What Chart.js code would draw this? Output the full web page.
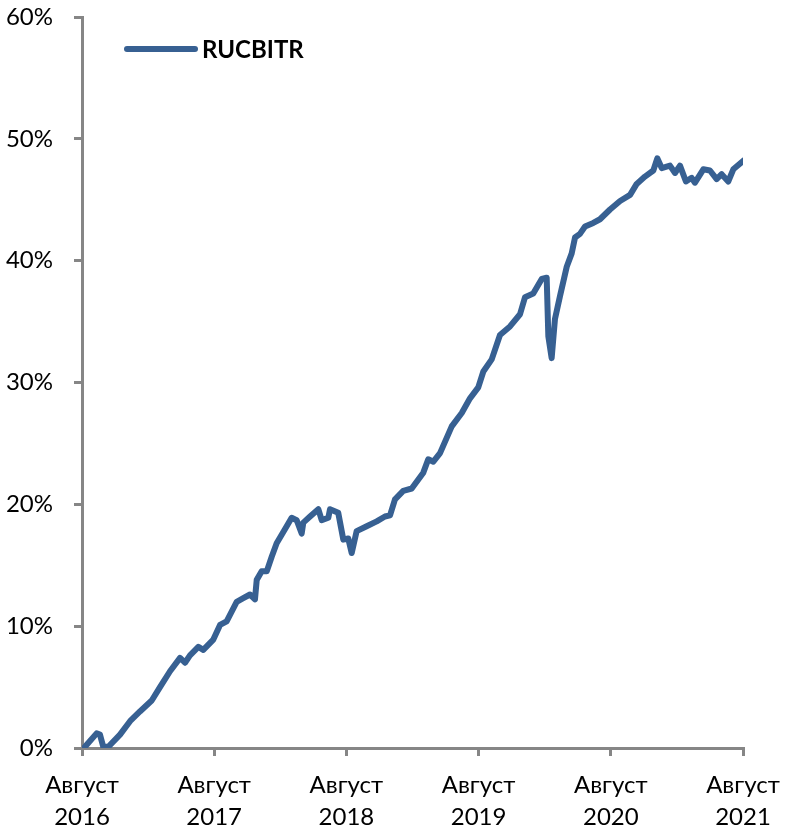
<!DOCTYPE html>
<html>
<head>
<meta charset="utf-8">
<script src="https://cdn.jsdelivr.net/npm/chart.js@4.4.1/dist/chart.umd.min.js"></script>
<style>
  html, body { margin: 0; padding: 0; background: #fff; }
  #wrap { width: 792px; height: 830px; }
</style>
</head>
<body>
<div id="wrap"><canvas id="chart" width="792" height="830"></canvas></div>
<script>
// months since August 2016
const months = [0.27, 1.33, 1.63, 1.93, 2.39, 3.45, 4.36, 5.26, 6.33, 7.08, 7.99, 8.9, 9.35, 9.8, 10.56, 11.01,
  11.92, 12.53, 13.13, 14.04, 14.64, 15.25, 15.7, 15.86, 16.31, 16.77, 17.22, 17.67, 18.58, 19.03, 19.49, 19.94,
  20.09, 20.7, 21.45, 21.76, 22.36, 22.51, 23.26, 23.72, 24.17, 24.48, 24.93, 25.84, 26.75, 27.5, 27.96, 28.41,
  29.16, 29.93, 30.98, 31.43, 31.89, 32.5, 33.56, 34.47, 35.22, 35.97, 36.43, 37.19, 37.94, 38.85, 39.76, 40.21,
  40.96, 41.73, 42.18, 42.33, 42.63, 42.93, 43.39, 44.0, 44.45, 44.75, 45.2, 45.66, 46.41, 47.02, 47.93, 48.84,
  49.75, 50.35, 51.1, 51.86, 52.22, 52.62, 53.37, 53.83, 54.28, 54.82, 55.34, 55.64, 56.4, 57.0, 57.61, 58.06,
  58.66, 59.12, 60.03];
// RUCBITR, %
const rucbitr = [0.1, 1.2, 1.1, 0.1, 0.1, 1.1, 2.2, 3.0, 3.9, 5.0, 6.3, 7.4, 7.0, 7.6, 8.3, 8.05,
  8.9, 10.1, 10.4, 12.0, 12.3, 12.6, 12.2, 13.8, 14.5, 14.5, 15.7, 16.8, 18.2, 18.9, 18.7, 17.6,
  18.5, 19.0, 19.6, 18.7, 18.9, 19.6, 19.3, 17.1, 17.2, 16.0, 17.8, 18.2, 18.6, 19.0, 19.1, 20.4,
  21.1, 21.3, 22.6, 23.7, 23.5, 24.2, 26.4, 27.5, 28.7, 29.6, 30.9, 31.9, 33.9, 34.6, 35.6, 37.0,
  37.3, 38.5, 38.6, 33.8, 32.0, 35.2, 37.1, 39.5, 40.6, 41.9, 42.2, 42.8, 43.1, 43.4, 44.2, 44.9,
  45.4, 46.3, 46.9, 47.4, 48.4, 47.6, 47.8, 47.2, 47.8, 46.5, 46.8, 46.4, 47.5, 47.4, 46.7, 47.1,
  46.5, 47.5, 48.2];
const seriesName = 'RUCBITR';
const monthName = 'Август';
const firstYear = 2016;

const axisColor = '#868686';
const lineColor = '#376092';
const fontFamily = 'Lato, "Open Sans", sans-serif';

const legendPlugin = {
  id: 'legendLine',
  afterDraw(chart) {
    const ctx = chart.ctx;
    ctx.save();
    ctx.strokeStyle = lineColor;
    ctx.lineWidth = 6;
    ctx.lineCap = 'round';
    ctx.beginPath();
    ctx.moveTo(127, 49);
    ctx.lineTo(195, 49);
    ctx.stroke();
    ctx.fillStyle = '#000';
    ctx.font = 'bold 24px ' + fontFamily;
    ctx.textBaseline = 'middle';
    ctx.fillText(seriesName, 202, 50);
    ctx.restore();
  }
};

new Chart(document.getElementById('chart'), {
  type: 'line',
  data: {
    datasets: [{
      label: seriesName,
      data: months.map((m, i) => ({ x: m, y: rucbitr[i] })),
      borderColor: lineColor,
      borderWidth: 6,
      borderCapStyle: 'round',
      borderJoinStyle: 'round',
      pointRadius: 0,
      tension: 0,
      fill: false
    }]
  },
  options: {
    responsive: false,
    animation: false,
    layout: { padding: { left: 0, right: 49, top: 17, bottom: 0 } },
    plugins: { legend: { display: false }, tooltip: { enabled: false } },
    scales: {
      x: {
        type: 'linear',
        min: 0,
        max: 60,
        afterFit: s => { s.height = 82; s.paddingLeft = 0; s.paddingRight = 0; },
        afterBuildTicks: s => { s.ticks = [0, 12, 24, 36, 48, 60].map(v => ({ value: v })); },
        ticks: {
          color: '#000',
          font: { family: fontFamily, size: 24, lineHeight: 1.33 },
          padding: 13,
          maxRotation: 0,
          callback: v => [monthName, String(firstYear + v / 12)]
        },
        grid: { drawOnChartArea: false, drawTicks: true, tickLength: 8, color: axisColor, lineWidth: 3 },
        border: { color: axisColor, width: 3 }
      },
      y: {
        min: 0,
        max: 60,
        afterFit: s => { s.width = 82; s.paddingTop = 0; s.paddingBottom = 0; },
        ticks: {
          stepSize: 10,
          color: '#000',
          font: { family: fontFamily, size: 24 },
          padding: 21,
          callback: v => v + '%'
        },
        grid: { drawOnChartArea: false, drawTicks: true, tickLength: 8, color: axisColor, lineWidth: 3 },
        border: { color: axisColor, width: 3 }
      }
    }
  },
  plugins: [legendPlugin]
});
</script>
</body>
</html>
